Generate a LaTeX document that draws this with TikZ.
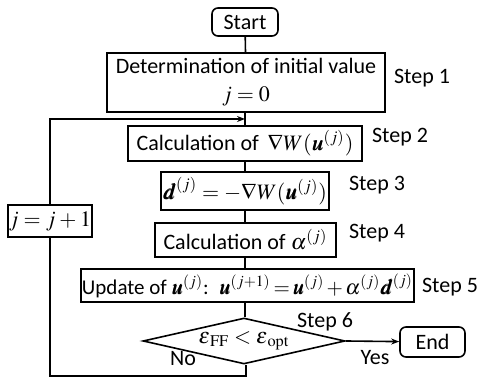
\documentclass[tikz,border=0pt]{standalone}
\usepackage{amsmath}
\usepackage{mathptmx}
\usepackage{bm}
\usepackage[no-math]{fontspec}
\setmainfont{Carlito}
\usetikzlibrary{shapes.geometric,positioning,arrows.meta}

\newcommand\tightmath{\thickmuskip=4mu\relax\medmuskip=3mu\relax}
\newcommand\tightermath{\thickmuskip=2.5mu\relax\medmuskip=2mu\relax}

\begin{document}
\begin{tikzpicture}[x=0.5pt,y=-0.5pt,
    every node/.style={font=\fontsize{11}{13}\selectfont\tightmath},
    box/.style={draw, thick, inner sep=1pt},
    term/.style={box, rounded corners=3pt},
    decision/.style={draw, thick, diamond, inner sep=0pt, aspect=4.4},
    steplabel/.style={inner sep=0pt},
    >={Stealth[length=4pt,width=3pt]}]

  \useasboundingbox (0,0) rectangle (479,378);

  % main column
  \node[term, minimum width=33pt, minimum height=14pt] (start) at (245,22) {Start};
  \node[box, minimum width=139pt, minimum height=29.5pt, align=center] (init) at (246,82.5)
    {Determination of initial value\\[1pt] $j=0$};
  \node[box, minimum width=117pt, minimum height=17.5pt] (grad) at (245,143.5)
    {Calculation of\, $\nabla W(\bm{u}^{(j)})$};
  \node[box, minimum width=79pt, minimum height=19pt] (dir) at (245,191)
    {$\bm{d}^{(j)}=-\nabla W(\bm{u}^{(j)})$};
  \node[box, minimum width=90.5pt, minimum height=17pt] (alpha) at (245.5,240)
    {Calculation of $\alpha^{(j)}$};
  \node[box, minimum width=162.5pt, minimum height=16.5pt, inner sep=0.5pt,
        font=\fontsize{10.5}{12}\selectfont\tightermath] (update) at (247.5,285.5)
    {Update of $\bm{u}^{(j)}$:\enspace $\bm{u}^{(j+1)}=\bm{u}^{(j)}+\alpha^{(j)}\bm{d}^{(j)}$};
  \node[decision, minimum width=101pt, minimum height=23pt] (check) at (244,341)
    {$\varepsilon_{\,\mathrm{FF}}<\varepsilon_{\,\mathrm{opt}}$};
  \node[term, minimum width=32.5pt, minimum height=15pt] (end) at (432.5,342) {End};

  % loop counter
  \node[box, minimum width=42pt, minimum height=16pt, inner sep=0.5pt] (inc) at (50,221) {$j=j+1$};

  % step labels
  \node[steplabel] (s1) at (422,78) {Step 1};
  \node[steplabel] (s2) at (400,137) {Step 2};
  \node[steplabel] (s3) at (377,185) {Step 3};
  \node[steplabel] (s4) at (377,233) {Step 4};
  \node[steplabel] (s5) at (450,287) {Step 5};
  \node[steplabel] (s6) at (325,322) {Step 6};
  \node[steplabel] (yes) at (375,358) {Yes};
  \node[steplabel] (no) at (183,359) {No};

  \coordinate (looptop) at (50,119);
  \coordinate (loopbot) at (246,376);

  \draw[thick] (start) -- (init);
  \draw[thick] (init.south -| grad.north) -- (grad);
  \draw[thick] (grad) -- (dir);
  \draw[thick] (dir) -- (alpha.north -| dir.south);
  \draw[thick] (alpha.south -| dir.south) -- (update.north -| dir.south);
  \draw[thick] (update.south -| dir.south) -- (check.north -| dir.south);
  \draw[thick,->] (check.east) -- (end);

  \draw[thick] (check.south -| loopbot) -- (loopbot) -| (inc.south);
  \draw[thick,->] (inc.north) -- (looptop) -- (looptop -| grad.north);
\end{tikzpicture}
\end{document}
